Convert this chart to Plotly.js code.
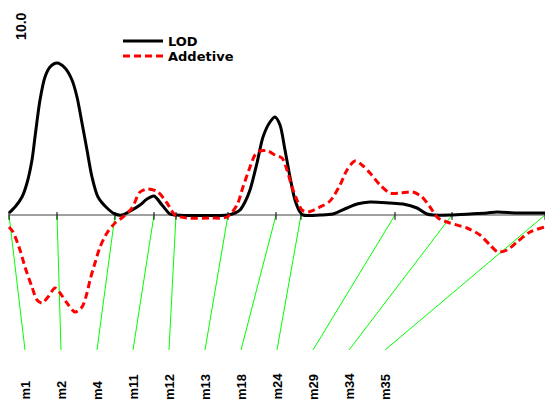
<!DOCTYPE html>
<html><head><meta charset="utf-8">
<script src="https://cdn.plot.ly/plotly-3.0.1.min.js"></script>
<style>html,body{margin:0;padding:0;background:#fff}#chart{width:545px;height:403px}</style>
</head><body><div id="chart"></div>
<script>
// ---- data ----
const markerNames = ["m1","m2","m4","m11","m12","m13","m18","m24","m29","m34","m35"];
const markerPos   = [0, 48, 106, 145, 167, 219, 267, 292, 386, 443, 536];

const lodPos = [0,6,13,18,23,26,31,36,41,48,56,63,68,73,78,83,89,98,106,113,123,131,138,145,153,161,167,219,226,231,236,241,248,254,261,266,271,276,281,286,291,294,311,324,338,348,361,381,394,408,418,424,441,461,478,488,508,536];
const lodVal = [0.1,0.4,0.9,1.6,2.75,3.9,5.75,6.9,7.4,7.6,7.35,6.75,5.9,4.6,3.25,1.9,0.9,0.35,0.05,0,0.25,0.5,0.8,0.95,0.5,0.05,0,0,0.1,0.25,0.65,1.25,2.6,3.9,4.65,4.9,4.5,3.25,1.9,0.75,0.15,0,0,0.05,0.35,0.55,0.65,0.6,0.55,0.35,0.05,0,0,0.05,0.1,0.15,0.1,0.1];

const addPos = [0,4,11,16,23,28,33,39,46,51,58,66,73,78,81,86,91,98,106,114,123,131,139,149,158,166,178,201,218,228,234,241,246,251,259,266,273,278,283,288,293,299,311,321,331,338,346,353,361,371,381,391,404,413,421,429,441,458,471,481,489,498,508,521,536];
const addVal = [-0.6,-0.85,-1.75,-2.6,-3.6,-4.25,-4.4,-4.1,-3.65,-3.9,-4.4,-4.85,-4.6,-3.9,-3.25,-2.4,-1.6,-0.9,-0.4,-0.1,0.35,1.15,1.3,1.15,0.6,0,-0.15,-0.15,-0.1,0.5,1.4,2.4,3.0,3.2,3.2,3.0,2.85,2.25,1.4,0.75,0.25,0.15,0.4,0.7,1.5,2.25,2.7,2.5,2.1,1.5,1.1,1.1,1.15,0.9,0.4,-0.15,-0.4,-0.65,-1.0,-1.5,-1.85,-1.75,-1.35,-0.85,-0.6];

const seriesNames = ["LOD", "Addetive"];
const yTopLabel = "10.0";
const yTopValue = 10.0;

// ---- layout constants ----
const slotStart = 16, slotStep = 36, slotY = -6.75, labelY = -9.35, tickHalf = 0.15;

const slots = markerPos.map((p, i) => slotStart + slotStep * i);

const gx = [], gy = [], tx = [], ty = [];
markerPos.forEach((p, i) => {
  gx.push(p, slots[i], null); gy.push(0, slotY, null);
  tx.push(p, p, null); ty.push(tickHalf, -tickHalf * 1.6, null);
});

const traces = [
  {x: [markerPos[0], markerPos[markerPos.length - 1]], y: [0, 0], mode: 'lines',
   line: {color: '#808080', width: 1.5}, showlegend: false, hoverinfo: 'skip'},
  {x: gx, y: gy, mode: 'lines', line: {color: '#00ff00', width: 1},
   showlegend: false, hoverinfo: 'skip'},
  {x: tx, y: ty, mode: 'lines', line: {color: '#000000', width: 1},
   showlegend: false, hoverinfo: 'skip'},
  {x: lodPos, y: lodVal, mode: 'lines', name: seriesNames[0],
   line: {color: '#000000', width: 3, shape: 'spline', smoothing: 0.8}, legend: 'legend'},
  {x: addPos, y: addVal, mode: 'lines', name: seriesNames[1],
   line: {color: '#ff0000', width: 3, dash: '7px,4px', shape: 'spline', smoothing: 0.8}, legend: 'legend2'}
];

const labelFont = {family: 'Liberation Sans, Arial, sans-serif', size: 13, color: '#000', weight: 'bold'};
const annotations = markerNames.map((n, i) => ({
  x: slots[i], y: labelY, xref: 'x', yref: 'y', text: n, showarrow: false,
  textangle: -90, yanchor: 'bottom', xanchor: 'center', font: labelFont
}));
annotations.push({
  x: 12.5, y: yTopValue - 0.57, xref: 'x', yref: 'y', text: yTopLabel, showarrow: false,
  textangle: -90, xanchor: 'center', yanchor: 'middle',
  font: {family: 'Liberation Sans, Arial, sans-serif', size: 14, color: '#000', weight: 'bold'}
});

const legFont = {family: 'DejaVu Sans, sans-serif', size: 13, color: '#000', weight: 'bold'};
const layout = {
  width: 545, height: 403,
  margin: {l: 0, r: 0, t: 0, b: 0},
  paper_bgcolor: '#fff', plot_bgcolor: '#fff',
  xaxis: {range: [-9, 536], visible: false, fixedrange: true},
  yaxis: {range: [-9.4, 10.75], visible: false, fixedrange: true},
  showlegend: true,
  legend: {x: 118/545, y: 1 - 41/403, xanchor: 'left', yanchor: 'middle', itemwidth: 40,
           bgcolor: 'rgba(0,0,0,0)', borderwidth: 0, font: legFont},
  legend2: {x: 118/545, y: 1 - 56/403, xanchor: 'left', yanchor: 'middle', itemwidth: 40,
           bgcolor: 'rgba(0,0,0,0)', borderwidth: 0, font: legFont},
  annotations: annotations,
  hovermode: false
};

Plotly.newPlot('chart', traces, layout, {displayModeBar: false, staticPlot: true});
</script></body></html>
